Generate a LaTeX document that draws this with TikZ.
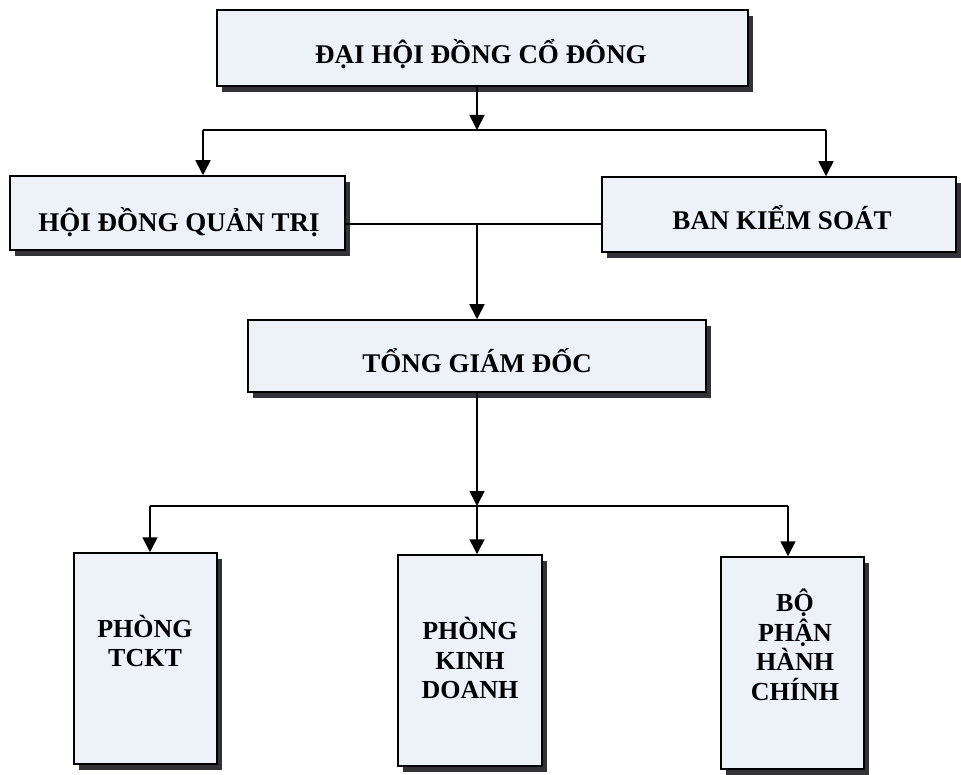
\documentclass[tikz,border=0pt]{standalone}
\usepackage{fontspec}
\setmainfont{Liberation Serif}
\usetikzlibrary{arrows.meta,shadows}
\definecolor{boxfill}{RGB}{237,241,248}
\definecolor{shadowc}{RGB}{50,50,55}
\begin{document}
\begin{tikzpicture}[x=1pt,y=-1pt,
  box/.style={draw=black, line width=1.5pt, fill=boxfill, inner sep=0pt,
    drop shadow={shadow xshift=5pt, shadow yshift=-6pt, fill=shadowc, opacity=1}},
  lbl/.style={font=\bfseries\fontsize{27}{30}\selectfont, inner sep=0pt, anchor=base},
  lbls/.style={font=\bfseries\fontsize{26}{29.5}\selectfont, inner sep=0pt, align=center},
  conn/.style={line width=1.6pt, black},
  arr/.style={conn, -{Triangle[width=15pt,length=15pt]}}
]
\useasboundingbox (0,0) rectangle (961,775);

% boxes
\node[box, minimum width=531pt, minimum height=76pt] (A) at (482.5,48) {};
\node[box, minimum width=335pt, minimum height=74pt] (B) at (177.5,213) {};
\node[box, minimum width=354pt, minimum height=75pt] (C) at (779,214.5) {};
\node[box, minimum width=458pt, minimum height=72pt] (D) at (477,356) {};
\node[box, minimum width=143pt, minimum height=211pt] (E) at (145.5,658.5) {};
\node[box, minimum width=144pt, minimum height=211pt] (F) at (470,660.5) {};
\node[box, minimum width=143pt, minimum height=212pt] (G) at (792.5,663) {};

% texts
\node[lbl] (tA) at (481,64) {ĐẠI HỘI ĐỒNG CỔ ĐÔNG};
\node[lbl] (tB) at (179,232) {HỘI ĐỒNG QUẢN TRỊ};
\node[lbl] (tC) at (782,230) {BAN KIỂM SOÁT};
\node[lbl] (tD) at (477,373) {TỔNG GIÁM ĐỐC};
\node[lbls] (tE) at (145,641) {PHÒNG\\TCKT};
\node[lbls] (tF) at (470,658) {PHÒNG\\KINH\\DOANH};
\node[lbls] (tG) at (795,645) {BỘ\\PHẬN\\HÀNH\\CHÍNH};

% junction coordinates
\coordinate (j1) at (477,130);
\coordinate (hl) at (203,130);
\coordinate (hr) at (826,130);
\coordinate (m) at (477,224);
\coordinate (j2) at (477,506);
\coordinate (bl) at (150,506);
\coordinate (br) at (788,506);

% connectors
\draw[arr] (A.south -| j1) -- (j1);
\draw[conn] (hl) -- (hr);
\draw[arr] (hl) -- (B.north -| hl);
\draw[arr] (hr) -- (C.north -| hr);
\draw[conn] (B.east |- m) -- (C.west |- m);
\draw[arr] (m) -- (D.north -| m);
\draw[arr] (D.south -| j2) -- (j2);
\draw[conn] (bl) -- (br);
\draw[arr] (bl) -- (E.north -| bl);
\draw[arr] (j2) -- (F.north -| j2);
\draw[arr] (br) -- (G.north -| br);
\end{tikzpicture}
\end{document}
